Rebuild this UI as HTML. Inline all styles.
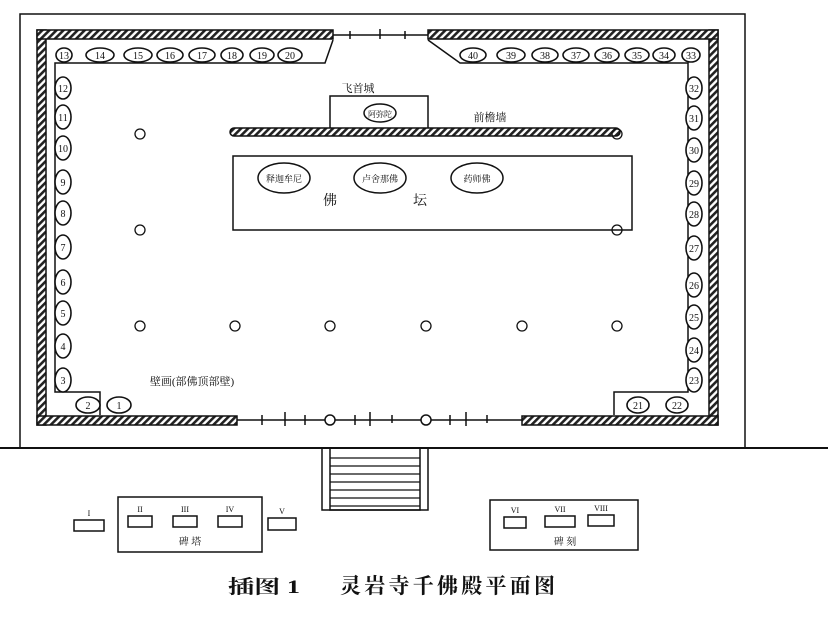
<!DOCTYPE html>
<html><head><meta charset="utf-8"><style>
body{margin:0;background:#fff}
svg{display:block}
text{font-family:"Liberation Serif","Noto Serif CJK SC",serif;fill:#111}
</style></head><body>
<svg width="828" height="621" viewBox="0 0 828 621">
<defs>
<pattern id="h" width="5" height="5" patternUnits="userSpaceOnUse" patternTransform="rotate(45)">
<rect width="5" height="5" fill="#fff"/><rect width="2.6" height="5" fill="#222"/></pattern>
</defs>
<g stroke="#111" fill="none" stroke-width="1.5">
<polyline points="20,448 20,14 745,14 745,448"/>
<line x1="0" y1="448" x2="828" y2="448" stroke-width="2"/>
<rect x="37" y="30" width="9" height="395" fill="url(#h)"/>
<rect x="709" y="30" width="9" height="395" fill="url(#h)"/>
<rect x="37" y="30" width="296" height="9" fill="url(#h)"/>
<rect x="428" y="30" width="290" height="9" fill="url(#h)"/>
<rect x="37" y="416" width="200" height="9" fill="url(#h)"/>
<rect x="522" y="416" width="196" height="9" fill="url(#h)"/>
<line x1="333" y1="35" x2="428" y2="35"/>
<line x1="237" y1="420" x2="522" y2="420"/>
<path d="M350 31v8M380 29v10M405 31v8M262 415v10M285 412v14M305 415v10M355 415v10M370 412v14M392 415v8M450 415v10M466 412v14M487 415v8"/>
<circle cx="330" cy="420" r="5" fill="#fff"/><circle cx="426" cy="420" r="5" fill="#fff"/>
<polyline points="333,40 325,63 55,63 55,392 100,392 100,415"/>
<polyline points="428,40 460,63 688,63 688,392 614,392 614,415"/>
<rect x="330" y="96" width="98" height="33"/>
<rect x="230" y="128" width="390" height="8" rx="4" fill="url(#h)"/>
<rect x="233" y="156" width="399" height="74"/>
<ellipse cx="380" cy="113" rx="16" ry="9"/>
<ellipse cx="284" cy="178" rx="26" ry="15"/>
<ellipse cx="380" cy="178" rx="26" ry="15"/>
<ellipse cx="477" cy="178" rx="26" ry="15"/>
<g stroke-width="1.3">
<circle cx="140" cy="134" r="5"/><circle cx="617" cy="134" r="5"/>
<circle cx="140" cy="230" r="5"/><circle cx="617" cy="230" r="5"/>
<circle cx="140" cy="326" r="5"/><circle cx="235" cy="326" r="5"/><circle cx="330" cy="326" r="5"/>
<circle cx="426" cy="326" r="5"/><circle cx="522" cy="326" r="5"/><circle cx="617" cy="326" r="5"/>
</g>
<rect x="322" y="448" width="106" height="62"/>
<rect x="330" y="448" width="90" height="62"/>
<path d="M330 458h90M330 466h90M330 474h90M330 482h90M330 490h90M330 498h90M330 506h90" stroke-width="1.2"/>
<rect x="74" y="520" width="30" height="11"/>
<rect x="118" y="497" width="144" height="55"/>
<rect x="128" y="516" width="24" height="11"/><rect x="173" y="516" width="24" height="11"/><rect x="218" y="516" width="24" height="11"/>
<rect x="268" y="518" width="28" height="12"/>
<rect x="490" y="500" width="148" height="50"/>
<rect x="504" y="517" width="22" height="11"/><rect x="545" y="516" width="30" height="11"/><rect x="588" y="515" width="26" height="11"/>
</g>
<g font-size="10" text-anchor="middle" stroke="#111" stroke-width="1.6">
<g fill="#fff">
<ellipse cx="64" cy="55" rx="8" ry="7"/><ellipse cx="100" cy="55" rx="14" ry="7"/><ellipse cx="138" cy="55" rx="14" ry="7"/><ellipse cx="170" cy="55" rx="13" ry="7"/><ellipse cx="202" cy="55" rx="13" ry="7"/><ellipse cx="232" cy="55" rx="11" ry="7"/><ellipse cx="262" cy="55" rx="12" ry="7"/><ellipse cx="290" cy="55" rx="12" ry="7"/>
<ellipse cx="473" cy="55" rx="13" ry="7"/><ellipse cx="511" cy="55" rx="14" ry="7"/><ellipse cx="545" cy="55" rx="13" ry="7"/><ellipse cx="576" cy="55" rx="13" ry="7"/><ellipse cx="607" cy="55" rx="12" ry="7"/><ellipse cx="637" cy="55" rx="12" ry="7"/><ellipse cx="664" cy="55" rx="11" ry="7"/><ellipse cx="691" cy="55" rx="9" ry="7"/>
<ellipse cx="63" cy="88" rx="8" ry="11"/><ellipse cx="63" cy="117" rx="8" ry="12"/><ellipse cx="63" cy="148" rx="8" ry="12"/><ellipse cx="63" cy="182" rx="8" ry="12"/><ellipse cx="63" cy="213" rx="8" ry="12"/><ellipse cx="63" cy="247" rx="8" ry="12"/><ellipse cx="63" cy="282" rx="8" ry="12"/><ellipse cx="63" cy="313" rx="8" ry="12"/><ellipse cx="63" cy="346" rx="8" ry="12"/><ellipse cx="63" cy="380" rx="8" ry="12"/>
<ellipse cx="694" cy="88" rx="8" ry="11"/><ellipse cx="694" cy="118" rx="8" ry="12"/><ellipse cx="694" cy="150" rx="8" ry="12"/><ellipse cx="694" cy="183" rx="8" ry="12"/><ellipse cx="694" cy="214" rx="8" ry="12"/><ellipse cx="694" cy="248" rx="8" ry="12"/><ellipse cx="694" cy="285" rx="8" ry="12"/><ellipse cx="694" cy="317" rx="8" ry="12"/><ellipse cx="694" cy="350" rx="8" ry="12"/><ellipse cx="694" cy="380" rx="8" ry="12"/>
<ellipse cx="88" cy="405" rx="12" ry="8"/><ellipse cx="119" cy="405" rx="12" ry="8"/><ellipse cx="638" cy="405" rx="11" ry="8"/><ellipse cx="677" cy="405" rx="11" ry="8"/>
</g>
</g>
<g font-size="10" text-anchor="middle" font-family="Liberation Sans,sans-serif">
<text x="64" y="59">13</text><text x="100" y="59">14</text><text x="138" y="59">15</text><text x="170" y="59">16</text><text x="202" y="59">17</text><text x="232" y="59">18</text><text x="262" y="59">19</text><text x="290" y="59">20</text>
<text x="473" y="59">40</text><text x="511" y="59">39</text><text x="545" y="59">38</text><text x="576" y="59">37</text><text x="607" y="59">36</text><text x="637" y="59">35</text><text x="664" y="59">34</text><text x="691" y="59">33</text>
<text x="63" y="92">12</text><text x="63" y="121">11</text><text x="63" y="152">10</text><text x="63" y="186">9</text><text x="63" y="217">8</text><text x="63" y="251">7</text><text x="63" y="286">6</text><text x="63" y="317">5</text><text x="63" y="350">4</text><text x="63" y="384">3</text>
<text x="694" y="92">32</text><text x="694" y="122">31</text><text x="694" y="154">30</text><text x="694" y="187">29</text><text x="694" y="218">28</text><text x="694" y="252">27</text><text x="694" y="289">26</text><text x="694" y="321">25</text><text x="694" y="354">24</text><text x="694" y="384">23</text>
<text x="88" y="409">2</text><text x="119" y="409">1</text><text x="638" y="409">21</text><text x="677" y="409">22</text>
</g>
<g font-size="11" text-anchor="middle" font-family="Liberation Sans,'Noto Sans CJK SC',sans-serif">
<text x="358" y="92">飞首城</text>
<text x="380" y="117" font-size="8">阿弥陀</text>
<text x="490" y="121">前檐墙</text>
<text x="284" y="182" font-size="9">释迦牟尼</text>
<text x="380" y="182" font-size="9">卢舍那佛</text>
<text x="477" y="182" font-size="9">药师佛</text>
<text x="330" y="205" font-size="14">佛</text><text x="420" y="205" font-size="14">坛</text>
<text x="192" y="385">壁画(部佛顶部壁)</text>
<text x="89" y="516" font-size="8">I</text>
<text x="140" y="512" font-size="8">II</text><text x="185" y="512" font-size="8">III</text><text x="230" y="512" font-size="8">IV</text><text x="282" y="514" font-size="8">V</text>
<text x="515" y="513" font-size="8">VI</text><text x="560" y="512" font-size="8">VII</text><text x="601" y="511" font-size="8">VIII</text>
<text x="190" y="545" font-size="10">碑  塔</text>
<text x="565" y="545" font-size="10">碑  刻</text>
</g>
<text x="228" y="593" font-size="19" font-weight="bold" textLength="72" lengthAdjust="spacingAndGlyphs">插图 1</text>
<text x="340" y="593" font-size="21" font-weight="bold" textLength="215" lengthAdjust="spacing">灵岩寺千佛殿平面图</text>
</svg>
</body></html>
